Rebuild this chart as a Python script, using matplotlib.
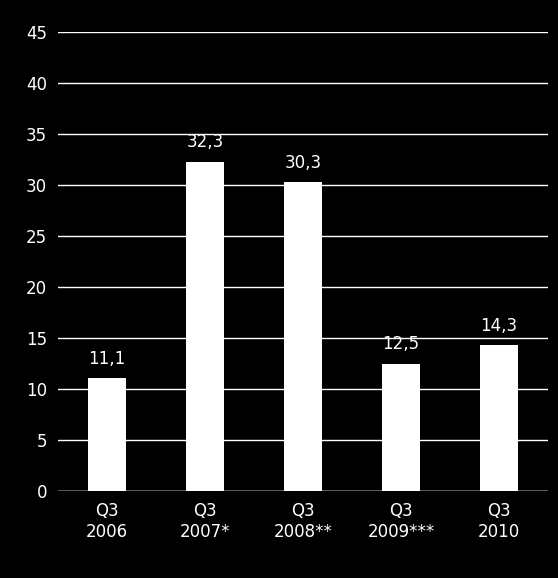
import matplotlib.pyplot as plt

categories = ["Q3\n2006", "Q3\n2007*", "Q3\n2008**", "Q3\n2009***", "Q3\n2010"]
values = [11.1, 32.3, 30.3, 12.5, 14.3]
labels = ["11,1", "32,3", "30,3", "12,5", "14,3"]

fig = plt.figure(figsize=(5.58, 5.78), dpi=100, facecolor="black")
ax = fig.add_axes([0.104, 0.1505, 0.878, 0.794], facecolor="black")

x = range(len(values))
bars = ax.bar(x, values, width=0.39, color="white", zorder=3)
for b, lab in zip(bars, labels):
    ax.text(b.get_x() + b.get_width() / 2, b.get_height() + 1, lab,
            ha="center", va="bottom", color="white", fontsize=12)

ax.set_xlim(-0.5, 4.5)
ax.set_ylim(0, 45)
ax.set_yticks(range(0, 46, 5))
ax.yaxis.grid(True, color="white", linewidth=1, zorder=0)
ax.set_xticks(list(x))
ax.set_xticklabels(categories)
ax.tick_params(colors="white", labelsize=12, length=0, pad=8)
for s in ax.spines.values():
    s.set_visible(False)
ax.axhline(0, color="white", linewidth=1, zorder=4)

fig.savefig("out.png", dpi=100, facecolor="black")
